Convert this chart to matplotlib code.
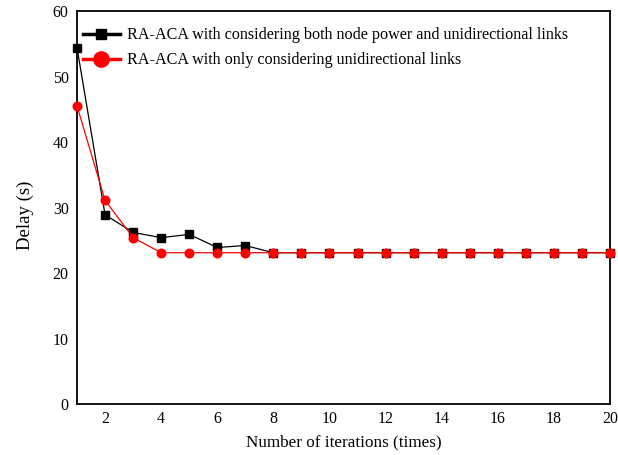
import matplotlib
matplotlib.use("Agg")
import matplotlib.pyplot as plt
from matplotlib.lines import Line2D

plt.rcParams['font.family'] = ['Liberation Serif', 'DejaVu Serif']

iterations = list(range(1, 21))
delay_both = [54.4, 28.9, 26.2, 25.4, 25.9, 23.9, 24.2, 23.1, 23.1, 23.1,
              23.1, 23.1, 23.1, 23.1, 23.1, 23.1, 23.1, 23.1, 23.1, 23.1]
delay_uni = [45.5, 31.1, 25.4, 23.1, 23.1, 23.1, 23.1, 23.1, 23.1, 23.1,
             23.1, 23.1, 23.1, 23.1, 23.1, 23.1, 23.1, 23.1, 23.1, 23.1]
labels = ["RA-ACA with considering both node power and unidirectional links",
          "RA-ACA with only considering unidirectional links"]
xticks = [2, 4, 6, 8, 10, 12, 14, 16, 18, 20]
yticks = [0, 10, 20, 30, 40, 50, 60]

fig = plt.figure(figsize=(6.18, 4.55), dpi=100)
ax = fig.add_axes([0.1246, 0.112, 0.8624, 0.8638])

ax.plot(iterations, delay_both, color='black', lw=0.9, marker='s', ms=5.2,
        clip_on=False, zorder=3)
ax.plot(iterations, delay_uni, color='red', lw=0.9, marker='o', ms=6.2,
        clip_on=False, zorder=4)

ax.set_xlim(1, 20)
ax.set_ylim(0, 60)
ax.set_xticks(xticks)
ax.set_yticks(yticks)
ax.tick_params(length=0, labelsize=11.5)
ax.tick_params(axis='x', pad=5)
ax.tick_params(axis='y', pad=6)
for s in ax.spines.values():
    s.set_linewidth(1.3)

ax.set_xlabel("Number of iterations (times)", fontsize=12.3)
ax.xaxis.set_label_coords(0.5, -0.077)
ax.set_ylabel("Delay (s)", fontsize=13.5)
ax.yaxis.set_label_coords(-0.080, 0.48)

handles = [Line2D([], [], color='black', lw=2.5, marker='s', ms=7),
           Line2D([], [], color='red', lw=2.5, marker='o', ms=11)]
ax.legend(handles, labels, loc='upper left', frameon=False, fontsize=11.6,
          handlelength=2.3, handletextpad=0.45, borderaxespad=0.0,
          labelspacing=0.55, bbox_to_anchor=(-0.001, 0.975))

fig.savefig("out.png", dpi=100)
